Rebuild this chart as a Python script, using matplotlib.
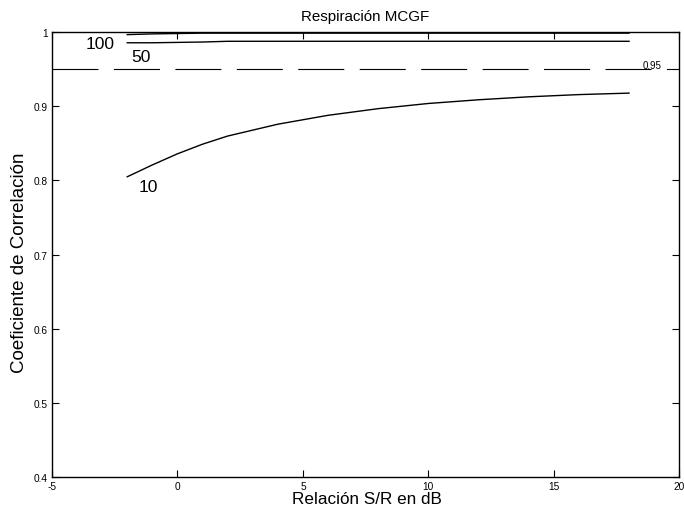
import matplotlib
matplotlib.use("Agg")
import matplotlib.pyplot as plt

plt.rcParams['font.family'] = ['Liberation Sans', 'DejaVu Sans']

# SNR sweep (dB) and correlation for each window length
snr_db = [-2, -1, 0, 1, 2, 3, 4, 6, 8, 10, 12, 14, 16, 18]
corr_10 = [0.805, 0.821, 0.836, 0.849, 0.860, 0.868, 0.876, 0.888, 0.897,
           0.904, 0.909, 0.913, 0.916, 0.918]
corr_50 = [0.986, 0.986, 0.9865, 0.987, 0.988, 0.988, 0.988, 0.988, 0.988,
           0.988, 0.988, 0.988, 0.988, 0.988]
corr_100 = [0.997, 0.998, 0.9985, 0.999, 0.999, 0.999, 0.999, 0.999, 0.999,
            0.999, 0.999, 0.999, 0.999, 0.999]
threshold = 0.95

x_ticks = [-5, 0, 5, 10, 15, 20]
y_ticks = [0.4, 0.5, 0.6, 0.7, 0.8, 0.9, 1.0]
y_ticklabels = ['0.4', '0.5', '0.6', '0.7', '0.8', '0.9', '1']

fig = plt.figure(figsize=(6.84, 5.10), dpi=100)
ax = fig.add_axes([0.076, 0.0635, 0.917, 0.871])

ax.plot(snr_db, corr_100, color='black', lw=1.0)
ax.plot(snr_db, corr_50, color='black', lw=1.0)
ax.plot(snr_db, corr_10, color='black', lw=1.0)
ax.plot([-5, 20], [threshold, threshold], color='black', lw=0.8,
        dashes=(41.4, 13.9))

# curve labels
ax.text(-3.1, 0.9786, '100', fontsize=12.6, ha='center', va='baseline')
ax.text(-1.45, 0.9615, '50', fontsize=12.6, ha='center', va='baseline')
ax.text(-1.17, 0.7862, '10', fontsize=12.6, ha='center', va='baseline')
ax.text(18.9, 0.952, '0.95', fontsize=7, ha='center', va='baseline')

ax.set_xlim(-5, 20)
ax.set_ylim(0.4, 1.0)
ax.set_xticks(x_ticks)
ax.set_xticklabels([str(v) for v in x_ticks])
ax.set_yticks(y_ticks)
ax.set_yticklabels(y_ticklabels)
ax.tick_params(direction='in', length=5, width=0.8, labelsize=7.3, pad=3,
               top=True, right=True)
for sp in ax.spines.values():
    sp.set_linewidth(1.0)

ax.text(0.5, 1.028, 'Respiración MCGF', fontsize=10.9, ha='center',
        va='baseline', transform=ax.transAxes)
ax.set_xlabel('Relación S/R en dB', fontsize=12.3, va='center')
ax.xaxis.set_label_coords(0.502, -0.050)
ax.set_ylabel('Coeficiente de Correlación', fontsize=13.5, va='center')
ax.yaxis.set_label_coords(-0.052, 0.483)

fig.savefig('out.png', dpi=100)
